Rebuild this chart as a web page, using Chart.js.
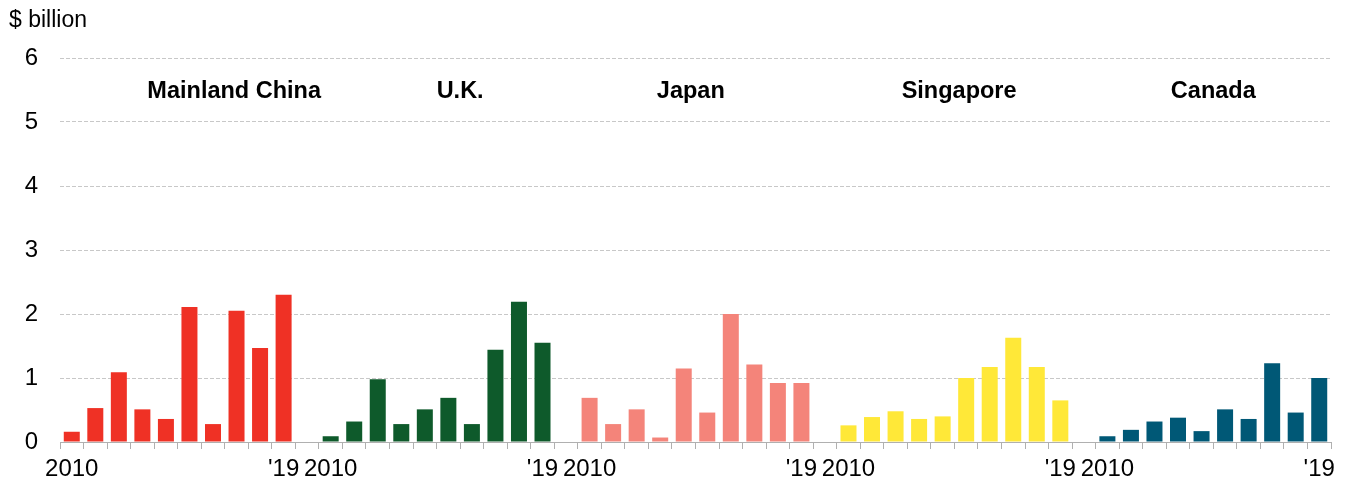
<!DOCTYPE html>
<html>
<head>
<meta charset="utf-8">
<script src="https://cdn.jsdelivr.net/npm/chart.js@4/dist/chart.umd.min.js"></script>
<style>
  html, body { margin: 0; padding: 0; background: #fff; }
  #wrap { width: 1348px; height: 485px; position: relative; }
</style>
</head>
<body>
<div id="wrap"><canvas id="myChart"></canvas></div>
<script>
// annual values, $ billion, 2010-2019
const years = ['2010', '', '', '', '', '', '', '', '', "'19"]
const countries = ['Mainland China', 'U.K.', 'Japan', 'Singapore', 'Canada']
const china = [0.16, 0.53, 1.09, 0.51, 0.36, 2.11, 0.28, 2.05, 1.47, 2.30]
const uk = [0.09, 0.32, 0.98, 0.28, 0.51, 0.69, 0.28, 1.44, 2.19, 1.55]
const japan = [0.69, 0.28, 0.51, 0.07, 1.15, 0.46, 2.00, 1.21, 0.92, 0.92]
const singapore = [0.26, 0.39, 0.48, 0.36, 0.40, 1.00, 1.17, 1.63, 1.17, 0.65]
const canada = [0.09, 0.19, 0.32, 0.38, 0.17, 0.51, 0.36, 1.23, 0.46, 1.00]
const yTicks = [0, 1, 2, 3, 4, 5, 6]

const series = [china, uk, japan, singapore, canada]
const colors = ['#EF3125', '#0E5A2B', '#F4847A', '#FFE838', '#005876']

const FONT = 'Arial, "Liberation Sans", sans-serif'

// one empty category between country groups
const labels = []
series.forEach((s, i) => {
  if (i > 0) labels.push('')
  years.forEach(y => labels.push(y))
})

const datasets = series.map((s, i) => {
  const data = new Array(labels.length).fill(null)
  s.forEach((v, j) => { data[i * (years.length + 1) + j] = v })
  return {
    label: countries[i],
    data: data,
    backgroundColor: colors[i],
    borderWidth: 0,
    barPercentage: 0.68,
    categoryPercentage: 1
  }
})

// country names above each group; anchor is a category index
const labelAnchors = [6.9, 16.5, 26.3, 37.7, 48.5]

const annotations = {
  id: 'annotations',
  afterDraw(chart) {
    const ctx = chart.ctx
    const x = chart.scales.x
    ctx.save()
    ctx.fillStyle = '#000'
    ctx.font = '23px ' + FONT
    ctx.textAlign = 'left'
    ctx.textBaseline = 'middle'
    ctx.fillText('$ billion', 9, 21)
    ctx.font = 'bold 23.5px ' + FONT
    ctx.textAlign = 'center'
    countries.forEach((c, i) => {
      ctx.fillText(c, x.getPixelForValue(labelAnchors[i]), 92)
    })
    ctx.restore()
  }
}

const ctx = document.getElementById('myChart').getContext('2d')

new Chart(ctx, {
  type: 'bar',
  data: { labels: labels, datasets: datasets },
  plugins: [annotations],
  options: {
    responsive: true,
    maintainAspectRatio: false,
    animation: false,
    layout: { padding: { top: 58, right: 17, left: 0, bottom: 0 } },
    plugins: {
      legend: { display: false },
      tooltip: { enabled: false }
    },
    scales: {
      x: {
        stacked: true,
        grid: {
          display: true,
          drawOnChartArea: false,
          drawTicks: true,
          tickLength: 7,
          color: '#b0b0b0',
          offset: true
        },
        border: { display: true, color: '#b0b0b0', width: 1 },
        ticks: {
          autoSkip: false,
          maxRotation: 0,
          minRotation: 0,
          padding: 6,
          color: '#000',
          font: { family: FONT, size: 24 }
        },
        afterFit(scale) { scale.height = 43 }
      },
      y: {
        stacked: true,
        min: 0,
        max: 6,
        afterBuildTicks(scale) { scale.ticks = yTicks.map(v => ({ value: v })) },
        grid: {
          color: '#c8c8c8',
          lineWidth: 1,
          drawTicks: false
        },
        border: { display: false, dash: [4, 2] },
        ticks: {
          padding: 22,
          color: '#000',
          font: { family: FONT, size: 24 }
        },
        afterFit(scale) { scale.width = 60 }
      }
    }
  }
})
</script>
</body>
</html>
